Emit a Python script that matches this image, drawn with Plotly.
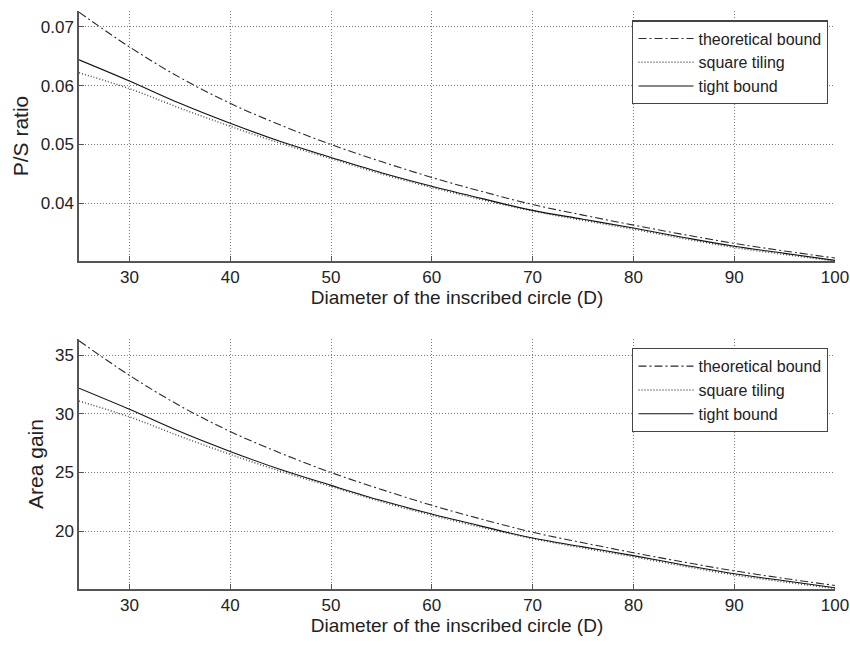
import plotly.graph_objects as go

D = [25, 30, 35, 40, 45, 50, 55, 60, 65, 70, 75, 80, 85, 90, 95, 100]

ps_theoretical = [0.0725, 0.0666, 0.0614, 0.0570, 0.0533, 0.0500, 0.0471, 0.0444,
                  0.0420, 0.0398, 0.0380, 0.0363, 0.0347, 0.0332, 0.0319, 0.0307]
ps_square = [0.0622, 0.0595, 0.0562, 0.0531, 0.0502, 0.0476, 0.0450, 0.0427,
             0.0406, 0.0387, 0.0371, 0.0356, 0.0340, 0.0325, 0.0313, 0.0302]
ps_tight = [0.0644, 0.0608, 0.0570, 0.0536, 0.0505, 0.0478, 0.0452, 0.0429,
            0.0408, 0.0388, 0.0373, 0.0358, 0.0342, 0.0327, 0.0315, 0.0303]

ag_theoretical = [36.25, 33.3, 30.7, 28.5, 26.65, 25.0, 23.55, 22.2,
                  21.0, 19.9, 19.0, 18.15, 17.35, 16.6, 15.95, 15.35]
ag_square = [31.1, 29.75, 28.1, 26.55, 25.1, 23.8, 22.5, 21.35,
             20.3, 19.35, 18.55, 17.8, 17.0, 16.25, 15.65, 15.1]
ag_tight = [32.2, 30.4, 28.5, 26.8, 25.25, 23.9, 22.6, 21.45,
            20.4, 19.4, 18.65, 17.9, 17.1, 16.35, 15.75, 15.15]

x_ticks = [30, 40, 50, 60, 70, 80, 90, 100]
ps_ticks = [0.04, 0.05, 0.06, 0.07]
ag_ticks = [20, 25, 30, 35]

names = ["theoretical bound", "square tiling", "tight bound"]

styles = [
    dict(color="#2a2a2a", width=1.1, dash="8px,3px,2px,3px"),
    dict(color="#505050", width=1.5, dash="1px,2px"),
    dict(color="#111111", width=1.1),
]

fig = go.Figure()
for name, ys, st in zip(names, [ps_theoretical, ps_square, ps_tight], styles):
    fig.add_trace(go.Scatter(x=D, y=ys, mode="lines", name=name, line=st,
                             line_shape="spline", xaxis="x", yaxis="y",
                             legend="legend"))
for name, ys, st in zip(names, [ag_theoretical, ag_square, ag_tight], styles):
    fig.add_trace(go.Scatter(x=D, y=ys, mode="lines", name=name, line=st,
                             line_shape="spline", xaxis="x2", yaxis="y2",
                             legend="legend2"))

axis_common = dict(showline=True, linecolor="#555555", linewidth=1.5,
                   ticks="inside", ticklen=5, tickcolor="#555555",
                   showgrid=True, gridcolor="#7a7a7a", griddash="1px,2px", gridwidth=1,
                   zeroline=False, tickfont=dict(size=17, color="#222222"),
                   mirror=False, automargin=False)

xtitle = dict(text="Diameter of the inscribed circle (D)",
              font=dict(size=19, color="#222222"), standoff=3)

fig.update_layout(
    xaxis=dict(**axis_common, range=[25, 100], tickvals=x_ticks, anchor="y",
               domain=[0, 1], title=xtitle),
    xaxis2=dict(**axis_common, range=[25, 100], tickvals=x_ticks, anchor="y2",
                domain=[0, 1], title=xtitle),
    yaxis=dict(**axis_common, range=[0.0302, 0.0727], tickvals=ps_ticks,
               ticktext=[f"{v:.2f}" for v in ps_ticks], anchor="x",
               domain=[0.5675, 1.0],
               title=dict(text="P/S ratio", font=dict(size=21, color="#222222"), standoff=6)),
    yaxis2=dict(**axis_common, range=[15.05, 36.4], tickvals=ag_ticks, anchor="x2",
                domain=[0.0, 0.4325],
                title=dict(text="Area gain", font=dict(size=21, color="#222222"), standoff=6)),
)

legend_common = dict(xanchor="right", yanchor="top",
                     bgcolor="white", bordercolor="#444444", borderwidth=1.3,
                     font=dict(size=16, color="#222222"), tracegroupgap=0,
                     itemwidth=55)

fig.update_layout(
    width=850, height=646,
    margin=dict(l=79, r=15, t=11, b=57, autoexpand=False),
    paper_bgcolor="white", plot_bgcolor="white",
    font=dict(family="Liberation Sans, Arial, sans-serif", color="#222222"),
    showlegend=True,
    legend=dict(x=0.991, y=0.984, **legend_common),
    legend2=dict(x=0.991, y=0.417, **legend_common),
)

fig.write_html(
    "out.html",
    config={"displayModeBar": False},
    post_script="document.body.style.margin='0';document.body.style.overflow='hidden';",
)
